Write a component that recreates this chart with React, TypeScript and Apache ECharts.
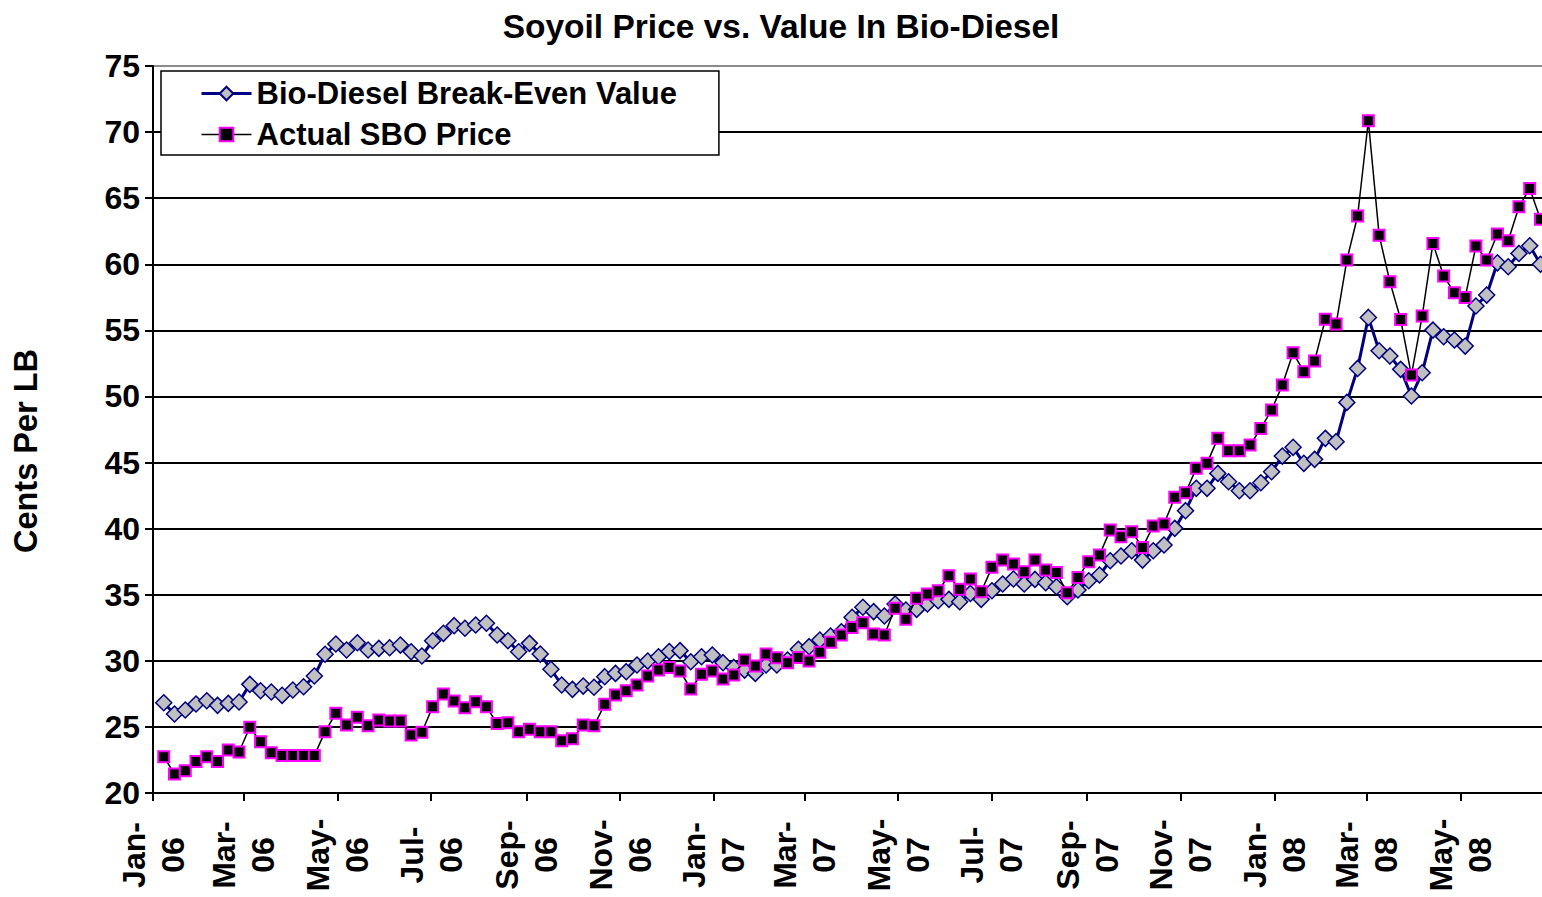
import React, { useEffect, useRef } from "react";
import * as echarts from "echarts";

const FONT = "'Liberation Sans', Arial, Helvetica, sans-serif";

const TITLE = "Soyoil Price vs. Value In Bio-Diesel";
const Y_NAME = "Cents Per LB";
const SERIES_NAMES = ["Bio-Diesel Break-Even Value", "Actual SBO Price"];

const AXIS_ORIGIN = "2006-01-01";
const AXIS_END = "2008-06-23";
const FIRST_WEEK = "2006-01-08";

const tickDates = [
  "2006-01-01", "2006-03-01", "2006-05-01", "2006-07-01", "2006-09-01", "2006-11-01",
  "2007-01-01", "2007-03-01", "2007-05-01", "2007-07-01", "2007-09-01", "2007-11-01",
  "2008-01-01", "2008-03-01", "2008-05-01",
];
const tickLabels = [
  "Jan-\n06", "Mar-\n06", "May-\n06", "Jul-\n06", "Sep-\n06", "Nov-\n06",
  "Jan-\n07", "Mar-\n07", "May-\n07", "Jul-\n07", "Sep-\n07", "Nov-\n07",
  "Jan-\n08", "Mar-\n08", "May-\n08",
];

const Y_MIN = 20;
const Y_MAX = 75;
const Y_STEP = 5;

// weekly values, starting with the first week of January 2006
const bioDiesel = [
  26.83, 25.98, 26.28, 26.73, 26.98, 26.63, 26.78, 26.88, 28.22, 27.74,
  27.64, 27.39, 27.79, 28.04, 28.85, 30.5, 31.27, 30.82, 31.37, 30.82,
  30.94, 30.99, 31.19, 30.69, 30.36, 31.52, 32.08, 32.66, 32.46, 32.71,
  32.84, 31.95, 31.52, 30.69, 31.32, 30.51, 29.36, 28.17, 27.84, 28.09,
  28.0, 28.8, 29.05, 29.18, 29.68, 29.98, 30.31, 30.7, 30.77, 29.93,
  30.31, 30.44, 29.86, 29.5, 29.3, 29.05, 29.68, 29.68, 30.06, 30.87,
  31.07, 31.57, 31.88, 32.2, 33.29, 34.05, 33.72, 33.39, 34.3, 33.84,
  33.89, 34.3, 34.55, 34.65, 34.47, 35.1, 34.65, 35.3, 35.81, 36.19,
  35.81, 36.16, 35.91, 35.61, 34.85, 35.36, 36.06, 36.49, 37.57, 37.93,
  38.33, 37.62, 38.33, 38.76, 40.02, 41.36, 43.05, 43.05, 44.18, 43.55,
  42.87, 42.87, 43.47, 44.3, 45.49, 46.15, 44.94, 45.24, 46.83, 46.58,
  49.55, 52.12, 55.98, 53.46, 53.06, 52.05, 50.03, 51.79, 55.02, 54.52,
  54.27, 53.81, 56.84, 57.67, 60.11, 59.81, 60.82, 61.4, 60.0,
];

const sboPrice = [
  22.75, 21.44, 21.69, 22.39, 22.75, 22.39, 23.25, 23.1, 24.97, 23.88,
  23.05, 22.83, 22.83, 22.83, 22.83, 24.64, 26.03, 25.14, 25.73, 25.09,
  25.52, 25.45, 25.45, 24.39, 24.59, 26.53, 27.49, 26.96, 26.45, 26.91,
  26.53, 25.25, 25.32, 24.64, 24.82, 24.64, 24.64, 23.96, 24.11, 25.14,
  25.09, 26.71, 27.41, 27.74, 28.17, 28.85, 29.3, 29.5, 29.23, 27.87,
  28.98, 29.23, 28.62, 28.92, 30.06, 29.61, 30.51, 30.24, 29.86, 30.26,
  29.98, 30.64, 31.4, 31.95, 32.53, 32.88, 32.03, 31.95, 33.97, 33.14,
  34.73, 35.05, 35.3, 36.44, 35.41, 36.19, 35.23, 37.07, 37.62, 37.32,
  36.74, 37.62, 36.87, 36.69, 35.15, 36.31, 37.5, 38.0, 39.89, 39.39,
  39.77, 38.58, 40.2, 40.35, 42.37, 42.72, 44.56, 44.94, 46.83, 45.9,
  45.9, 46.32, 47.58, 48.97, 50.86, 53.3, 51.87, 52.68, 55.85, 55.48,
  60.32, 63.65, 70.86, 62.2, 58.68, 55.83, 51.62, 56.08, 61.58, 59.11,
  57.85, 57.49, 61.38, 60.32, 62.29, 61.78, 64.35, 65.74, 63.4,
];

const DAY = 86400000;
const dayOffset = (d: string) => Math.round((Date.parse(d) - Date.parse(AXIS_ORIGIN)) / DAY);

export default function App() {
  const ref = useRef<HTMLDivElement>(null);

  useEffect(() => {
    document.body.style.margin = "0";
    if (!ref.current) return;
    const chart = echarts.init(ref.current, undefined, { renderer: "svg" });

    const tickDays = tickDates.map(dayOffset);
    const labelMap: Record<number, string> = {};
    tickDays.forEach((d, i) => (labelMap[d] = tickLabels[i]));
    const firstWeek = dayOffset(FIRST_WEEK);
    const weekDay = (i: number) => firstWeek + 7 * i;

    const nLines = (Y_MAX - Y_MIN) / Y_STEP + 1;
    const splitColors = Array.from({ length: nLines }, (_, i) => (i === nLines - 1 ? "#8c8c8c" : "#000000"));

    const bold = { fontFamily: FONT, fontWeight: "bold" as const, color: "#000" };

    chart.setOption({
      animation: false,
      backgroundColor: "#ffffff",
      textStyle: { fontFamily: FONT },
      title: {
        text: TITLE,
        left: 776,
        top: 4,
        textAlign: "center",
        textStyle: { ...bold, fontSize: 33.5 },
      },
      legend: {
        orient: "vertical",
        left: 161,
        top: 71,
        padding: [7, 42, 5, 39],
        itemGap: 10,
        itemWidth: 50,
        itemHeight: 17,
        borderColor: "#000",
        borderWidth: 1.5,
        borderRadius: 0,
        backgroundColor: "#fff",
        textStyle: { ...bold, fontSize: 31 },
        data: [
          { name: SERIES_NAMES[0], lineStyle: { width: 3, color: "#000080" } },
          { name: SERIES_NAMES[1], lineStyle: { width: 1.5, color: "#000" } },
        ],
      },
      graphic: [
        {
          type: "text",
          x: 26,
          y: 451,
          rotation: Math.PI / 2,
          style: {
            text: Y_NAME,
            align: "center",
            verticalAlign: "middle",
            fill: "#000",
            font: `bold 32.5px ${FONT}`,
          },
        },
      ],
      grid: { left: 153, top: 66, right: 0, bottom: 104, containLabel: false },
      xAxis: {
        type: "value",
        min: 0,
        max: dayOffset(AXIS_END),
        axisLine: { show: true, lineStyle: { color: "#000", width: 2 } },
        axisTick: { show: true, customValues: tickDays, length: 8, lineStyle: { color: "#000", width: 2 } },
        axisLabel: {
          customValues: tickDays,
          formatter: (v: number) => labelMap[Math.round(v)] ?? "",
          rotate: 90,
          align: "center",
          verticalAlign: "middle",
          margin: 62,
          fontSize: 32,
          lineHeight: 39,
          ...bold,
        },
        splitLine: { show: false },
      },
      yAxis: {
        type: "value",
        min: Y_MIN,
        max: Y_MAX,
        interval: Y_STEP,
        axisLine: { show: true, lineStyle: { color: "#000", width: 2 } },
        axisTick: { show: true, length: 8, lineStyle: { color: "#000", width: 2 } },
        axisLabel: { ...bold, fontSize: 32, margin: 13 },
        splitLine: { show: true, lineStyle: { color: splitColors, width: 2 } },
      },
      series: [
        {
          name: SERIES_NAMES[0],
          type: "line",
          data: bioDiesel.map((v, i) => [weekDay(i), v]),
          symbol: "diamond",
          symbolSize: 16,
          showAllSymbol: true,
          lineStyle: { color: "#000080", width: 3 },
          itemStyle: { color: "#c0c0c0", borderColor: "#000080", borderWidth: 1.5 },
          z: 2,
        },
        {
          name: SERIES_NAMES[1],
          type: "line",
          data: sboPrice.map((v, i) => [weekDay(i), v]),
          symbol: "rect",
          symbolSize: 11,
          showAllSymbol: true,
          lineStyle: { color: "#000000", width: 1.5 },
          itemStyle: { color: "#000000", borderColor: "#ff00ff", borderWidth: 2 },
          z: 3,
        },
      ],
    });

    return () => chart.dispose();
  }, []);

  return <div ref={ref} style={{ width: 1542, height: 897 }} />;
}
